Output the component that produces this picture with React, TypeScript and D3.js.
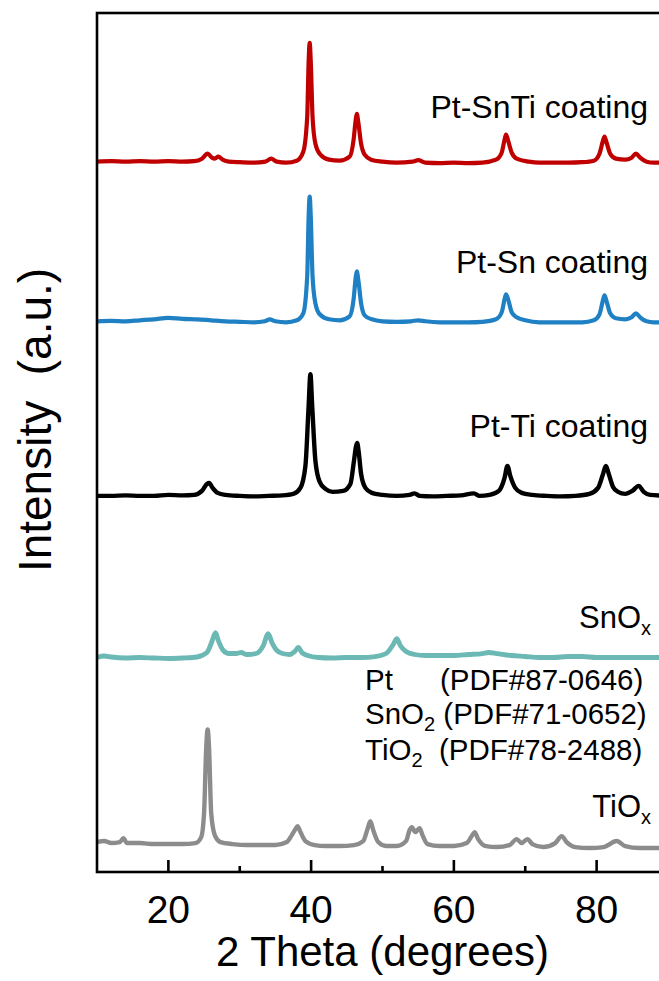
import React from "react";
import * as d3 from "d3";

// XRD patterns, [2θ (deg), intensity above each trace's own baseline (a.u.)]
const ptSnTi: [number, number][] = [
  [10, 0], [12, 0.5], [14, 0], [16, 0.5], [18, 0], [20, 0.5], [22, 0], [23.6, 0.5], [24.7, 3], [25.5, 8], [26.1, 4],
  [26.5, 3], [27.0, 5], [27.6, 2], [28.5, 0], [30, -0.5], [32, -1], [33.6, 0], [34.4, 3], [35.2, 0], [36.5, -1],
  [38.0, 1], [38.9, 10], [39.45, 45], [39.65, 100], [39.8, 119], [39.95, 100], [40.2, 45], [40.6, 18], [41.3, 7],
  [42.5, 2], [44, 1], [45.4, 5], [45.95, 22], [46.25, 42], [46.4, 48], [46.6, 40], [47.0, 18], [47.5, 7], [48.4, 2],
  [50, 0], [52, -1], [54.2, 0], [55.0, 1.5], [56, -1], [58, -1.5], [60, -1], [62, -1.5], [64, -1], [65.9, 2],
  [66.7, 9], [67.1, 22], [67.3, 27], [67.6, 21], [68.1, 9], [68.8, 3], [70.5, 0], [72, -1], [74, -1], [76, -1],
  [78, -0.5], [79.6, 1], [80.4, 8], [80.85, 20], [81.1, 25], [81.4, 19], [81.9, 8], [82.7, 3], [84, 2], [84.9, 4],
  [85.5, 8], [86.1, 4], [87, 0], [88, -1], [90, -1],
];

const ptSn: [number, number][] = [
  [10, 0], [12, 0.5], [14, 0], [16, 1], [18, 2], [20, 3.5], [22, 2.5], [24, 2], [26, 1], [28, 0], [30, -0.5],
  [32, -1], [33.5, 0], [34.2, 2], [35, 0], [36.5, -1], [38, 1], [38.9, 8], [39.45, 45], [39.65, 105], [39.8, 125],
  [39.95, 105], [40.2, 45], [40.6, 18], [41.2, 7], [42.5, 2], [44, 1], [45.4, 5], [45.95, 22], [46.25, 44],
  [46.4, 50], [46.6, 42], [47.0, 18], [47.5, 6], [48.5, 2], [50, 0], [52, -0.5], [54, 0], [55, 1], [56, 0],
  [58, -1], [60, -1], [62, -1], [64, -0.5], [65.9, 2], [66.7, 9], [67.1, 22], [67.3, 27], [67.6, 22], [68.1, 9],
  [68.8, 4], [70, 1], [72, -1], [74, -1], [76, -1], [78, -1], [79.6, 1], [80.4, 7], [80.85, 20], [81.1, 26],
  [81.4, 20], [81.9, 8], [82.7, 3], [84, 2], [84.9, 4], [85.5, 8], [86.1, 4], [87, 0], [88, -1], [90, -1],
];

const ptTi: [number, number][] = [
  [10, 0], [12, 0], [14, 0.5], [16, 0], [18, 0], [20, 1], [22, 0.5], [23.6, 1], [24.7, 5], [25.4, 12], [25.7, 13],
  [26.2, 8], [26.9, 3], [28, 1], [30, 0], [32, -0.5], [34, 0], [36, 0.5], [37.5, 2], [38.5, 8], [39.2, 30],
  [39.65, 90], [39.9, 122], [40.15, 90], [40.6, 35], [41.2, 14], [42, 7], [43, 4], [44.5, 5], [45.5, 12],
  [46.0, 35], [46.3, 50], [46.45, 53], [46.65, 45], [47.0, 22], [47.6, 8], [48.5, 3], [50, 1], [52, 0], [53.8, 1],
  [54.5, 2.5], [55.2, 0], [57, -0.5], [59, 0], [61, 0.5], [62.8, 2.5], [63.6, 0], [65, 1], [66.3, 5], [67.1, 18],
  [67.5, 30], [67.9, 20], [68.6, 8], [69.5, 3], [71, 1], [73, 0], [75, -0.5], [77, 0], [79, 2], [80.2, 8],
  [80.9, 22], [81.3, 30], [81.7, 22], [82.3, 9], [83, 4], [84, 2], [85, 5], [85.9, 10], [86.6, 4], [87.5, 1],
  [90, 0],
];

const snOx: [number, number][] = [
  [10, 0], [11, 1.5], [12, 0.5], [14, -0.5], [16, 0], [18, -0.5], [20, -1], [22, -0.5], [24, 0.5], [25.4, 5],
  [26.1, 16], [26.6, 25], [27.0, 17], [27.7, 7], [28.5, 4], [29.5, 4], [30.2, 5], [31, 3], [32.3, 4], [33.3, 12],
  [34.0, 24], [34.5, 15], [35.2, 7], [36, 4], [37, 3], [37.7, 6], [38.2, 10], [38.7, 5], [39.5, 2], [41, 0],
  [43, -0.5], [45, 0], [47, 0], [49, 1], [50.5, 4], [51.5, 13], [52.0, 19], [52.5, 12], [53.3, 6], [54.5, 3],
  [56, 2], [58, 2], [60, 2], [62, 3], [64, 4], [64.9, 5], [66, 4], [68, 2], [70, 1], [72, 0], [74, 0], [76, 1],
  [78, 1], [80, 0], [82, 0], [84, 0], [86, 0], [88, 0], [90, 0],
];

const tiOx: [number, number][] = [
  [10, 1], [11, 2], [12, 0], [13.2, 1], [13.7, 5], [14.2, 0], [16, 0], [18, -1], [20, -1], [22, -1], [23.8, 0],
  [24.6, 6], [25.0, 30], [25.3, 95], [25.5, 114], [25.7, 95], [26.0, 30], [26.5, 8], [27.3, 1], [29, -1],
  [31, -2], [33, -2], [35, -2], [36.6, 1], [37.3, 8], [37.8, 14], [38.1, 17], [38.5, 11], [39.2, 2], [40.5, -2],
  [42, -3], [44, -3], [46, -2], [47.3, 2], [47.9, 14], [48.3, 22], [48.7, 13], [49.4, 1], [50.5, -3], [52, -3],
  [53.3, 2], [53.8, 13], [54.1, 16], [54.6, 11], [55.2, 15], [55.6, 8], [56.3, -1], [58, -3], [60, -3],
  [61.8, 0], [62.5, 7], [62.9, 11], [63.4, 4], [64.5, -3], [66, -4], [67.8, -2], [68.8, 4], [69.5, 0],
  [70.3, 4], [71, -1], [72.5, -4], [74.2, 0], [75.1, 7], [75.8, 1], [77, -4], [79, -5], [81, -4], [82.8, 2],
  [84, -3], [86, -5], [88, -5], [90, -5],
];

const seriesData = [ptSnTi, ptSn, ptTi, snOx, tiOx];
const seriesOffsets = [712, 552, 377, 215, 29];
const seriesColors = ["#c00000", "#1f80c4", "#000000", "#6cb8b4", "#8c8c8c"];
const seriesWidths = [4.2, 4.2, 4.4, 4.8, 4.4];

const xTicksMajor = [20, 40, 60, 80];
const xTicksMinor = [30, 50, 70, 90];

const W = 659;
const H = 981;
const plot = { left: 97, right: 668, top: 13, bottom: 872 };

const FONT = "'Liberation Sans', Arial, sans-serif";

export default function App() {
  const x = d3.scaleLinear().domain([10, 90]).range([plot.left, plot.right]);
  const y = d3.scaleLinear().domain([0, 860]).range([plot.bottom, plot.top + 1]);

  const paths = seriesData.map((data, i) =>
    d3
      .line<[number, number]>()
      .x((d) => x(d[0]))
      .y((d) => y(d[1] + seriesOffsets[i]))
      .curve(d3.curveMonotoneX)(data) as string
  );

  const labelSize = 32;
  const refSize = 29.5;
  const subSize = 20;

  return (
    <div style={{ position: "absolute", left: 0, top: 0 }}>
      <svg width={W} height={H} style={{ display: "block", background: "#fff" }} fontFamily={FONT}>
        <defs>
          <clipPath id="plotClip">
            <rect x={plot.left} y={plot.top} width={plot.right - plot.left} height={plot.bottom - plot.top} />
          </clipPath>
        </defs>

        <g clipPath="url(#plotClip)">
          {paths.map((p, i) => (
            <path
              key={i}
              d={p}
              fill="none"
              stroke={seriesColors[i]}
              strokeWidth={seriesWidths[i]}
              strokeLinejoin="round"
              strokeLinecap="round"
            />
          ))}
        </g>

        {/* frame */}
        <rect
          x={plot.left}
          y={plot.top}
          width={plot.right - plot.left}
          height={plot.bottom - plot.top}
          fill="none"
          stroke="#000"
          strokeWidth={2.6}
        />

        {/* inward ticks on the bottom axis */}
        {xTicksMajor.map((t) => (
          <line key={"M" + t} x1={x(t)} x2={x(t)} y1={plot.bottom} y2={plot.bottom - 12} stroke="#000" strokeWidth={2.6} />
        ))}
        {xTicksMinor.map((t) => (
          <line key={"m" + t} x1={x(t)} x2={x(t)} y1={plot.bottom} y2={plot.bottom - 6} stroke="#000" strokeWidth={2.6} />
        ))}
        {xTicksMajor.map((t) => (
          <text key={"L" + t} x={x(t)} y={923} textAnchor="middle" fontSize={39} fill="#000">
            {t}
          </text>
        ))}

        <text x={(plot.left + plot.right) / 2} y={966} textAnchor="middle" fontSize={42} fill="#000">
          2 Theta (degrees)
        </text>
        <text transform="translate(51,420) rotate(-90)" textAnchor="middle" fontSize={46} fill="#000">
          {"Intensity\u00a0 (a.u.)"}
        </text>

        {/* trace labels */}
        <text x={648} y={118} textAnchor="end" fontSize={labelSize}>Pt-SnTi coating</text>
        <text x={648} y={273} textAnchor="end" fontSize={labelSize}>Pt-Sn coating</text>
        <text x={648} y={437} textAnchor="end" fontSize={labelSize}>Pt-Ti coating</text>
        <text x={651} y={628} textAnchor="end" fontSize={31}>
          SnO<tspan fontSize={subSize} dy={7}>x</tspan>
        </text>
        <text x={651} y={817} textAnchor="end" fontSize={31}>
          TiO<tspan fontSize={subSize} dy={7}>x</tspan>
        </text>

        {/* reference cards */}
        <text x={365} y={690} fontSize={refSize}>Pt</text>
        <text x={440} y={690} fontSize={refSize}>(PDF#87-0646)</text>
        <text x={365} y={724} fontSize={refSize}>
          SnO<tspan fontSize={subSize} dy={7}>2</tspan>
          <tspan dy={-7}> (PDF#71-0652)</tspan>
        </text>
        <text x={365} y={760} fontSize={refSize}>
          TiO<tspan fontSize={subSize} dy={7}>2</tspan>
          <tspan dy={-7}>{"\u00a0 (PDF#78-2488)"}</tspan>
        </text>
      </svg>
    </div>
  );
}
